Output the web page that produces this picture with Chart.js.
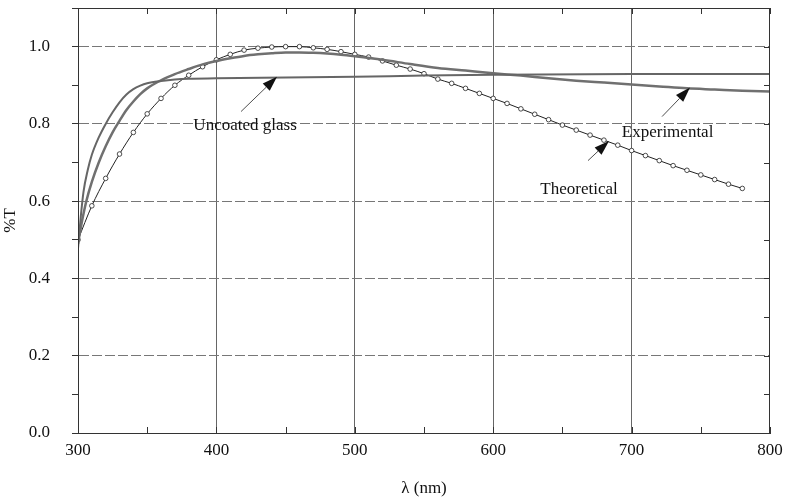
<!DOCTYPE html>
<html>
<head>
<meta charset="utf-8">
<script src="https://cdn.jsdelivr.net/npm/chart.js@4/dist/chart.umd.min.js"></script>
<style>
  html, body { margin: 0; padding: 0; background: #ffffff; }
  #wrap { width: 792px; height: 499px; position: relative; }
</style>
</head>
<body>
<div id="wrap"><canvas id="grafico"></canvas></div>
<script>
// Datos
const theoLambda = [300, 310, 320, 330, 340, 350, 360, 370, 380, 390, 400, 410, 420, 430, 440, 450, 460, 470, 480, 490,
                    500, 510, 520, 530, 540, 550, 560, 570, 580, 590, 600, 610, 620, 630, 640, 650, 660, 670, 680, 690,
                    700, 710, 720, 730, 740, 750, 760, 770, 780];
const theoT = [0.500, 0.588, 0.659, 0.722, 0.778, 0.826, 0.866, 0.900, 0.926, 0.948, 0.966, 0.980, 0.991, 0.996, 0.999, 1.000, 1.000, 0.997, 0.993, 0.987,
               0.980, 0.973, 0.963, 0.952, 0.942, 0.930, 0.916, 0.905, 0.892, 0.879, 0.866, 0.853, 0.839, 0.825, 0.811, 0.797, 0.784, 0.771, 0.758, 0.745,
               0.731, 0.718, 0.705, 0.692, 0.680, 0.668, 0.656, 0.644, 0.633];

const expLambda = [300, 303, 306, 310, 315, 320, 325, 330, 335, 340, 345, 350, 360, 370, 380, 390, 400, 410, 420, 430, 440, 450,
                   460, 470, 480, 490, 500, 520, 540, 560, 580, 600, 620, 640, 660, 680, 700, 720, 740, 760, 780, 800];
const expT = [0.490, 0.550, 0.600, 0.650, 0.700, 0.742, 0.778, 0.808, 0.836, 0.858, 0.877, 0.892, 0.913, 0.929, 0.942, 0.954, 0.963, 0.970, 0.976, 0.980, 0.983, 0.985,
              0.985, 0.984, 0.982, 0.979, 0.975, 0.966, 0.955, 0.945, 0.938, 0.931, 0.925, 0.918, 0.912, 0.907, 0.902, 0.897, 0.892, 0.889, 0.886, 0.884];

const glassLambda = [300, 302, 304, 307, 310, 315, 320, 325, 330, 335, 340, 345, 350, 360, 370, 380, 400, 450, 500, 550, 600, 700, 800];
const glassT = [0.478, 0.560, 0.625, 0.680, 0.720, 0.765, 0.800, 0.830, 0.856, 0.876, 0.890, 0.899, 0.905, 0.911, 0.915, 0.917, 0.918, 0.920, 0.922, 0.925, 0.927, 0.929, 0.929];

const xTicks = [300, 350, 400, 450, 500, 550, 600, 650, 700, 750, 800];
const yTicks = [0, 0.1, 0.2, 0.3, 0.4, 0.5, 0.6, 0.7, 0.8, 0.9, 1.0, 1.1];

// Rótulos con flecha, en coordenadas de datos
const rotulos = [
    { texto: 'Uncoated glass', x: 420.7, y: 0.795, desde: [417.8, 0.832], hasta: [443.8, 0.922] },
    { texto: 'Experimental',   x: 726.0, y: 0.777, desde: [722.0, 0.819], hasta: [742.2, 0.894] },
    { texto: 'Theoretical',    x: 662.0, y: 0.630, desde: [668.5, 0.705], hasta: [683.7, 0.756] }
];

const fuente = "'Liberation Serif', 'DejaVu Serif', serif";
const aPuntos = (xs, ys) => xs.map((x, i) => ({ x: x, y: ys[i] }));
const esPar = v => Math.abs(Math.round(v * 10) % 2) === 0;

// Marco, marcas interiores y rótulos
const pluginFigura = {
    id: 'figura',
    afterDraw(chart) {
        const { ctx, chartArea: a, scales } = chart;
        const sx = scales.x, sy = scales.y;
        ctx.save();
        ctx.strokeStyle = '#333';
        ctx.lineWidth = 1;
        ctx.strokeRect(a.left + 0.5, a.top + 0.5, a.right - a.left - 1, a.bottom - a.top);

        // marcas hacia adentro
        ctx.beginPath();
        xTicks.forEach(v => {
            const px = Math.round(sx.getPixelForValue(v)) + 0.5;
            ctx.moveTo(px, a.bottom); ctx.lineTo(px, a.bottom - 6);
            ctx.moveTo(px, a.top); ctx.lineTo(px, a.top + 6);
        });
        yTicks.forEach(v => {
            const py = Math.round(sy.getPixelForValue(v)) + 0.5;
            ctx.moveTo(a.right, py); ctx.lineTo(a.right - 6, py);
        });
        ctx.stroke();

        ctx.fillStyle = '#111';
        ctx.strokeStyle = '#222';
        ctx.font = '17px ' + fuente;
        ctx.textAlign = 'center';
        ctx.textBaseline = 'middle';
        rotulos.forEach(r => {
            ctx.fillText(r.texto, sx.getPixelForValue(r.x), sy.getPixelForValue(r.y));
            const x1 = sx.getPixelForValue(r.desde[0]), y1 = sy.getPixelForValue(r.desde[1]);
            const x2 = sx.getPixelForValue(r.hasta[0]), y2 = sy.getPixelForValue(r.hasta[1]);
            const ang = Math.atan2(y2 - y1, x2 - x1);
            const largo = 15, ancho = 5;
            const bx = x2 - largo * Math.cos(ang), by = y2 - largo * Math.sin(ang);
            ctx.lineWidth = 0.8;
            ctx.beginPath(); ctx.moveTo(x1, y1); ctx.lineTo(bx, by); ctx.stroke();
            ctx.beginPath();
            ctx.moveTo(x2, y2);
            ctx.lineTo(bx + ancho * Math.sin(ang), by - ancho * Math.cos(ang));
            ctx.lineTo(bx - ancho * Math.sin(ang), by + ancho * Math.cos(ang));
            ctx.closePath();
            ctx.fill();
        });
        ctx.restore();
    }
};

new Chart(document.getElementById('grafico'), {
    type: 'line',
    data: {
        datasets: [
            {
                label: 'Uncoated glass',
                data: aPuntos(glassLambda, glassT),
                borderColor: '#666',
                borderWidth: 2,
                pointRadius: 0,
                cubicInterpolationMode: 'monotone'
            },
            {
                label: 'Experimental',
                data: aPuntos(expLambda, expT),
                borderColor: '#707070',
                borderWidth: 2.5,
                pointRadius: 0,
                cubicInterpolationMode: 'monotone'
            },
            {
                label: 'Theoretical',
                data: aPuntos(theoLambda, theoT),
                borderColor: '#222',
                borderWidth: 1,
                pointRadius: 2.3,
                pointBackgroundColor: '#ffffff',
                pointBorderColor: '#222',
                pointBorderWidth: 0.8,
                cubicInterpolationMode: 'monotone'
            }
        ]
    },
    options: {
        responsive: true,
        maintainAspectRatio: false,
        animation: false,
        layout: { padding: { left: 0, right: 22, top: 8, bottom: 0 } },
        plugins: { legend: { display: false }, tooltip: { enabled: false } },
        scales: {
            x: {
                type: 'linear',
                min: 300, max: 800,
                afterBuildTicks: s => { s.ticks = xTicks.map(v => ({ value: v })); },
                afterFit: s => { s.height = 66; s.paddingLeft = 0; s.paddingRight = 0; },
                grid: {
                    drawTicks: false,
                    color: c => (c.tick && c.tick.value % 100 === 0 && c.tick.value > 300 && c.tick.value < 800) ? '#666' : 'rgba(0,0,0,0)',
                    lineWidth: 1
                },
                border: { color: '#333' },
                ticks: {
                    padding: 7,
                    color: '#111',
                    font: { family: fuente, size: 17 },
                    callback: v => (v % 100 === 0 ? v : '')
                },
                title: {
                    display: true,
                    text: 'λ (nm)',
                    color: '#111',
                    font: { family: fuente, size: 17 },
                    padding: { top: 2, bottom: 0 }
                }
            },
            y: {
                min: 0, max: 1.1,
                afterBuildTicks: s => { s.ticks = yTicks.map(v => ({ value: v })); },
                afterFit: s => { s.width = 78; s.paddingTop = 0; s.paddingBottom = 0; },
                grid: {
                    tickLength: 6,
                    tickColor: '#333',
                    color: c => (c.tick && esPar(c.tick.value) && c.tick.value > 0 && c.tick.value < 1.05) ? '#777' : 'rgba(0,0,0,0)',
                    lineWidth: 1
                },
                border: { color: '#333', dash: [10, 3] },
                ticks: {
                    padding: 22,
                    color: '#111',
                    font: { family: fuente, size: 17 },
                    callback: v => (esPar(v) && v < 1.05 ? v.toFixed(1) : '')
                },
                title: {
                    display: true,
                    text: '%T',
                    color: '#111',
                    font: { family: fuente, size: 17 },
                    padding: { top: 0, bottom: 0 }
                }
            }
        }
    },
    plugins: [pluginFigura]
});
</script>
</body>
</html>
